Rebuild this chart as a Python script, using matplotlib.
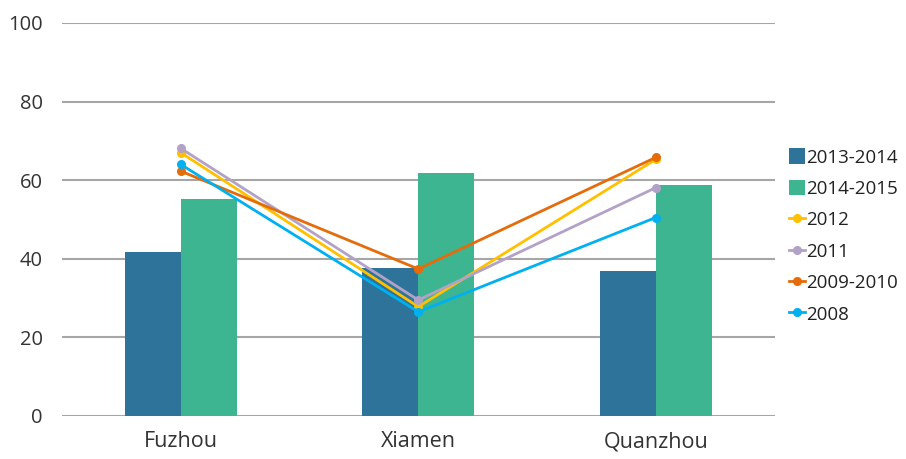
import matplotlib.pyplot as plt
import numpy as np

plt.rcParams['font.family'] = ['Open Sans', 'DejaVu Sans']

cities = ["Fuzhou", "Xiamen", "Quanzhou"]

# bar series
bar_names = ["2013-2014", "2014-2015"]
bar_2013_2014 = [41.7, 37.6, 36.9]
bar_2014_2015 = [55.2, 61.9, 58.8]

# line series
line_names = ["2012", "2011", "2009-2010", "2008"]
line_2012 = [67.0, 27.8, 65.3]
line_2011 = [68.1, 29.5, 58.1]
line_2009_2010 = [62.3, 37.4, 65.8]
line_2008 = [64.0, 26.5, 50.5]

bar_colors = ["#2E7399", "#3DB591"]
line_colors = ["#FFC000", "#B3A2C7", "#E46C0A", "#00B0F0"]

fig = plt.figure(figsize=(9.06, 4.59), dpi=100)
ax = fig.add_axes([0.0684, 0.0937, 0.7866, 0.8563])

x = np.arange(len(cities))
w = 0.235
handles = []
handles.append(ax.bar(x - w / 2, bar_2013_2014, w, color=bar_colors[0], label=bar_names[0], zorder=2))
handles.append(ax.bar(x + w / 2, bar_2014_2015, w, color=bar_colors[1], label=bar_names[1], zorder=2))

for vals, name, c in zip([line_2012, line_2011, line_2009_2010, line_2008], line_names, line_colors):
    ln, = ax.plot(x, vals, color=c, lw=2.0, marker="o", ms=5.5, label=name, zorder=3)
    handles.append(ln)

ax.set_xlim(-0.5, 2.5)
ax.set_ylim(0, 100)
ax.set_yticks(range(0, 101, 20))
ax.yaxis.grid(True, color="#A6A6A6", lw=1.5, zorder=0)
ax.set_xticks(x)
ax.set_xticklabels(cities)
ax.tick_params(axis="y", length=0, pad=14, labelsize=14.5, labelcolor="#333333")
ax.tick_params(axis="x", length=0, pad=11, labelsize=15.5, labelcolor="#333333")
for s in ax.spines.values():
    s.set_visible(False)

fig.legend(handles=handles, loc="upper left", bbox_to_anchor=(0.860, 0.697), frameon=False,
           fontsize=13.5, handlelength=0.9, handleheight=0.9, handletextpad=0.05,
           labelspacing=0.7, borderpad=0, labelcolor="#222222")

fig.savefig("out.png", dpi=100)
